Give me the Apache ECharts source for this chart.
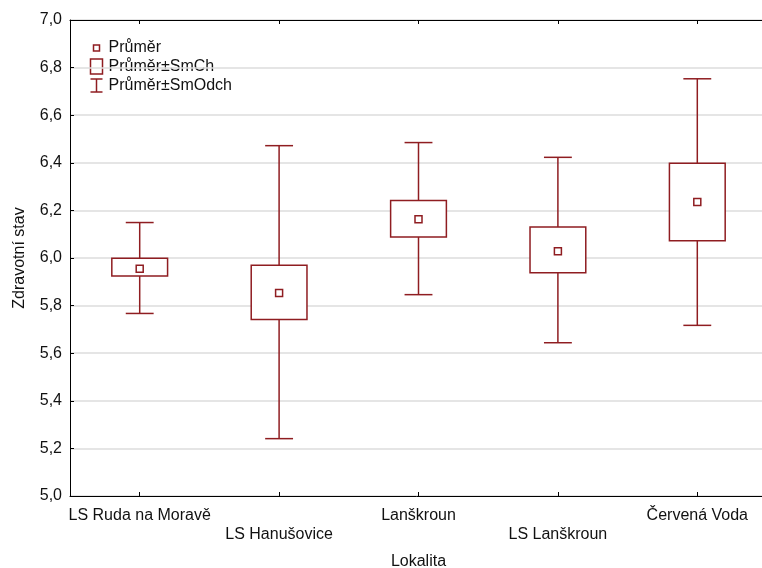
<!DOCTYPE html>
<html>
<head>
<meta charset="utf-8">
<script src="https://cdn.jsdelivr.net/npm/echarts@6/dist/echarts.min.js"></script>
<style>html,body{margin:0;padding:0;background:#fff;overflow:hidden}#c{width:762px;height:568px}</style>
</head>
<body>
<div id="c"></div>
<script>
var categories = ['LS Ruda na Moravě', 'LS Hanušovice', 'Lanškroun', 'LS Lanškroun', 'Červená Voda'];
var means      = [5.955, 5.853, 6.163, 6.028, 6.235];
var seLow      = [5.924, 5.742, 6.088, 5.938, 6.073];
var seHigh     = [5.999, 5.970, 6.242, 6.130, 6.398];
var sdLow      = [5.767, 5.241, 5.846, 5.644, 5.717];
var sdHigh     = [6.149, 6.472, 6.485, 6.423, 6.753];
var yTicks     = [5.0, 5.2, 5.4, 5.6, 5.8, 6.0, 6.2, 6.4, 6.6, 6.8, 7.0];

var RED = '#8f1d21';
var FONT = 'Liberation Sans, Arial, sans-serif';
var FS = 16;

var chart = echarts.init(document.getElementById('c'), null, {renderer: 'canvas'});

var boxData = categories.map(function (c, i) { return [i, seLow[i], seHigh[i]]; });
var whiskerData = categories.map(function (c, i) { return [i, sdLow[i], sdHigh[i], seLow[i], seHigh[i]]; });
var meanData = categories.map(function (c, i) { return [i, means[i]]; });

var option = {
  backgroundColor: '#fff',
  animation: false,
  grid: {left: 70, top: 20, width: 697, height: 476, containLabel: false, outerBoundsMode: 'none'},
  xAxis: [{
    type: 'category',
    data: categories,
    position: 'bottom',
    boundaryGap: true,
    name: 'Lokalita',
    nameLocation: 'middle',
    nameGap: 58,
    nameTextStyle: {fontFamily: FONT, fontSize: FS, color: '#111'},
    axisLine: {show: true, lineStyle: {color: '#000', width: 1}},
    axisTick: {show: true, inside: true, alignWithLabel: true, length: 4, lineStyle: {color: '#000'}},
    axisLabel: {
      interval: 0, margin: 10, fontFamily: FONT, fontSize: FS, color: '#111', lineHeight: 19,
      formatter: function (v, i) { return i % 2 === 1 ? '\n' + v : v; }
    },
    splitLine: {show: false}
  }, {
    type: 'category',
    data: categories,
    position: 'top',
    boundaryGap: true,
    axisLine: {show: true, lineStyle: {color: '#000', width: 1}},
    axisTick: {show: true, inside: true, alignWithLabel: true, length: 4, lineStyle: {color: '#000'}},
    axisLabel: {show: false},
    splitLine: {show: false}
  }],
  yAxis: {
    type: 'value',
    min: yTicks[0], max: yTicks[yTicks.length - 1], interval: 0.2,
    name: 'Zdravotní stav',
    nameLocation: 'middle',
    nameRotate: 90,
    nameGap: 42,
    nameTextStyle: {fontFamily: FONT, fontSize: FS, color: '#111'},
    axisLine: {show: true, lineStyle: {color: '#000', width: 1}},
    axisTick: {show: true, inside: true, length: 4, lineStyle: {color: '#000'}},
    axisLabel: {
      margin: 8, fontFamily: FONT, fontSize: FS, color: '#111',
      formatter: function (v) { return v.toFixed(1).replace('.', ','); }
    },
    splitLine: {show: true, lineStyle: {color: '#dcdcdc', width: 1.5}}
  },
  series: [{
    name: 'Průměr±SmOdch',
    type: 'custom',
    data: whiskerData,
    z: 2,
    renderItem: function (params, api) {
      var x = api.value(0);
      var lo = api.coord([x, api.value(1)]);
      var hi = api.coord([x, api.value(2)]);
      var bLo = api.coord([x, api.value(3)]);
      var bHi = api.coord([x, api.value(4)]);
      var half = api.size([1, 0])[0] * 0.1;
      var st = {stroke: RED, lineWidth: 1.5, fill: null};
      return {type: 'group', children: [
        {type: 'line', shape: {x1: hi[0], y1: hi[1], x2: bHi[0], y2: bHi[1]}, style: st},
        {type: 'line', shape: {x1: lo[0], y1: lo[1], x2: bLo[0], y2: bLo[1]}, style: st},
        {type: 'line', shape: {x1: hi[0] - half, y1: hi[1], x2: hi[0] + half, y2: hi[1]}, style: st},
        {type: 'line', shape: {x1: lo[0] - half, y1: lo[1], x2: lo[0] + half, y2: lo[1]}, style: st}
      ]};
    }
  }, {
    name: 'Průměr±SmCh',
    type: 'custom',
    data: boxData,
    z: 3,
    renderItem: function (params, api) {
      var x = api.value(0);
      var lo = api.coord([x, api.value(1)]);
      var hi = api.coord([x, api.value(2)]);
      var w = api.size([1, 0])[0] * 0.4;
      return {type: 'rect', shape: {x: lo[0] - w / 2, y: hi[1], width: w, height: lo[1] - hi[1]},
        style: {stroke: RED, lineWidth: 1.5, fill: '#fff'}};
    }
  }, {
    name: 'Průměr',
    type: 'custom',
    data: meanData,
    z: 4,
    renderItem: function (params, api) {
      var p = api.coord([api.value(0), api.value(1)]);
      return {type: 'rect', shape: {x: p[0] - 3.5, y: p[1] - 3.5, width: 7, height: 7},
        style: {stroke: RED, lineWidth: 1.5, fill: '#fff'}};
    }
  }],
  graphic: [{
    type: 'group', left: 88, top: 40,
    children: [
      {type: 'rect', shape: {x: 4, y: 5, width: 6, height: 6}, style: {stroke: RED, lineWidth: 1.5, fill: '#fff'}},
      {type: 'text', x: 19, y: 8, style: {text: 'Průměr', font: FS + 'px ' + FONT, fill: '#111', verticalAlign: 'middle'}},
      {type: 'rect', shape: {x: 1, y: 19, width: 12, height: 15}, style: {stroke: RED, lineWidth: 1.5, fill: '#fff'}},
      {type: 'text', x: 19, y: 27, style: {text: 'Průměr±SmCh', font: FS + 'px ' + FONT, fill: '#111', verticalAlign: 'middle'}},
      {type: 'line', shape: {x1: 1, y1: 39, x2: 13, y2: 39}, style: {stroke: RED, lineWidth: 1.5}},
      {type: 'line', shape: {x1: 7, y1: 39, x2: 7, y2: 52}, style: {stroke: RED, lineWidth: 1.5}},
      {type: 'line', shape: {x1: 1, y1: 52, x2: 13, y2: 52}, style: {stroke: RED, lineWidth: 1.5}},
      {type: 'text', x: 19, y: 46, style: {text: 'Průměr±SmOdch', font: FS + 'px ' + FONT, fill: '#111', verticalAlign: 'middle'}}
    ]
  }]
};
chart.setOption(option);
</script>
</body>
</html>
